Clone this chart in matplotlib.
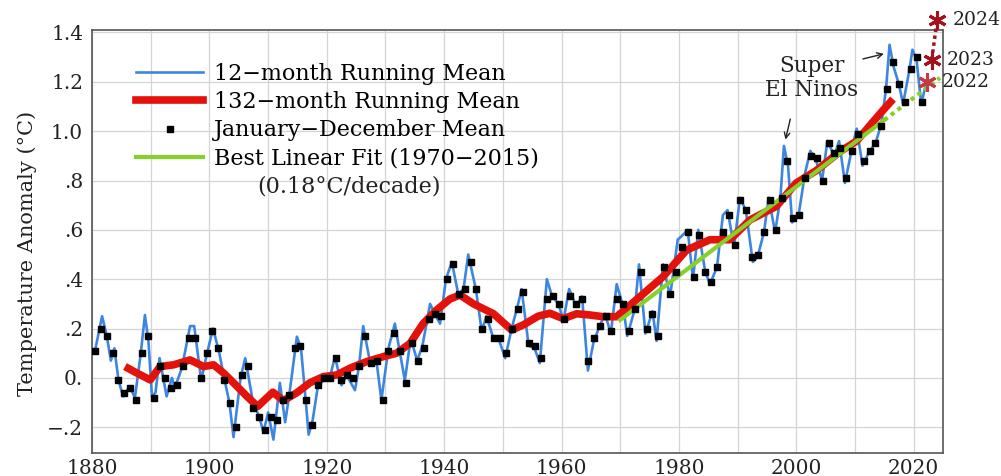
import matplotlib.pyplot as plt
from matplotlib.lines import Line2D
import numpy as np

plt.rcParams['font.family'] = ['DejaVu Serif']

# January-December annual means (deg C, 1880-1920 base), 1880..2021
ann_years = np.arange(1880, 2022)
ann_vals = [0.11, 0.20, 0.17, 0.10, -0.01, -0.06, -0.04, -0.09, 0.10, 0.17,
            -0.08, 0.05, 0.00, -0.04, -0.03, 0.05, 0.16, 0.16, 0.00, 0.10,
            0.19, 0.12, -0.01, -0.10, -0.20, 0.01, 0.05, -0.12, -0.16, -0.21,
            -0.16, -0.17, -0.09, -0.07, 0.12, 0.13, -0.09, -0.19, -0.03, 0.00,
            0.00, 0.08, -0.01, 0.01, 0.00, 0.05, 0.17, 0.06, 0.07, -0.09,
            0.11, 0.18, 0.11, -0.02, 0.14, 0.07, 0.12, 0.24, 0.26, 0.25,
            0.40, 0.46, 0.34, 0.36, 0.47, 0.36, 0.20, 0.24, 0.16, 0.16,
            0.10, 0.20, 0.28, 0.35, 0.14, 0.13, 0.08, 0.32, 0.33, 0.30,
            0.24, 0.33, 0.30, 0.32, 0.07, 0.16, 0.21, 0.25, 0.19, 0.32,
            0.30, 0.19, 0.28, 0.43, 0.20, 0.26, 0.17, 0.45, 0.34, 0.43,
            0.53, 0.59, 0.41, 0.58, 0.43, 0.39, 0.45, 0.59, 0.66, 0.54,
            0.72, 0.68, 0.49, 0.50, 0.59, 0.72, 0.60, 0.73, 0.88, 0.65,
            0.66, 0.81, 0.90, 0.89, 0.80, 0.95, 0.91, 0.93, 0.81, 0.92,
            0.99, 0.88, 0.92, 0.95, 1.02, 1.17, 1.28, 1.19, 1.12, 1.25,
            1.30, 1.12]

# 12-month running mean
blue_years = [1880.0, 1880.5, 1881.7, 1882.5, 1883.2, 1883.8, 1884.5, 1885.3, 1886.4, 1887.3,
              1888.3, 1889.0, 1889.6, 1890.2, 1890.8, 1891.5, 1892.7, 1893.6, 1894.1, 1895.3,
              1896.7, 1897.4, 1898.6, 1899.5, 1900.6, 1901.6, 1902.5, 1903.4, 1904.1, 1905.3,
              1906.1, 1907.5, 1908.4, 1909.2, 1910.0, 1910.9, 1912.0, 1912.9, 1913.6, 1914.9,
              1915.6, 1916.4, 1916.9, 1917.6, 1918.5, 1919.5, 1920.5, 1921.4, 1922.5, 1923.4,
              1924.8, 1925.5, 1926.2, 1927.4, 1928.4, 1929.3, 1930.5, 1931.6, 1932.4, 1933.3,
              1934.3, 1935.4, 1936.3, 1937.6, 1938.4, 1939.3, 1940.3, 1941.3, 1942.4, 1943.3,
              1944.1, 1945.4, 1946.4, 1947.2, 1948.4, 1949.4, 1950.4, 1951.5, 1952.5, 1953.2,
              1954.4, 1955.4, 1956.3, 1957.5, 1958.4, 1959.5, 1960.3, 1961.3, 1962.5, 1963.5,
              1964.5, 1965.5, 1966.5, 1967.4, 1968.4, 1969.4, 1970.5, 1971.2, 1972.5, 1973.2,
              1974.3, 1975.5, 1976.2, 1977.3, 1978.5, 1979.8, 1980.7, 1981.5, 1982.4, 1983.3,
              1984.5, 1985.3, 1986.5, 1987.5, 1988.3, 1989.4, 1990.4, 1991.4, 1992.6, 1993.4,
              1994.5, 1995.3, 1996.4, 1997.3, 1997.9, 1998.6, 1999.3, 2000.4, 2001.5, 2002.4,
              2003.4, 2004.4, 2005.3, 2006.5, 2007.3, 2008.3, 2009.5, 2010.3, 2011.3, 2012.5,
              2013.5, 2014.5, 2015.3, 2015.9, 2016.6, 2017.5, 2018.2, 2019.3, 2019.8, 2020.5,
              2021.3, 2022.0]
blue_vals = [0.12, 0.11, 0.25, 0.17, 0.07, 0.12, -0.01, -0.075, -0.035, -0.08,
             0.10, 0.255, 0.15, -0.075, -0.06, 0.08, -0.075, 0.0, -0.04, 0.04,
             0.21, 0.21, -0.01, 0.09, 0.20, 0.11, 0.0, -0.10, -0.24, 0.0,
             0.08, -0.11, -0.15, -0.22, -0.14, -0.25, -0.02, -0.18, -0.07, 0.167,
             0.12, -0.09, -0.23, -0.17, -0.03, -0.01, 0.0, 0.086, -0.03, 0.01,
             -0.05, 0.05, 0.21, 0.06, 0.08, -0.09, 0.12, 0.22, 0.11, -0.01,
             0.16, 0.07, 0.13, 0.30, 0.26, 0.22, 0.40, 0.47, 0.34, 0.36,
             0.50, 0.36, 0.19, 0.25, 0.16, 0.15, 0.08, 0.20, 0.29, 0.36,
             0.13, 0.12, 0.06, 0.40, 0.33, 0.30, 0.23, 0.36, 0.29, 0.33,
             0.03, 0.15, 0.21, 0.26, 0.18, 0.38, 0.29, 0.17, 0.28, 0.46,
             0.18, 0.27, 0.15, 0.46, 0.33, 0.56, 0.58, 0.60, 0.40, 0.60,
             0.43, 0.38, 0.45, 0.66, 0.68, 0.53, 0.73, 0.68, 0.47, 0.49,
             0.59, 0.73, 0.59, 0.73, 0.94, 0.86, 0.63, 0.66, 0.83, 0.92,
             0.88, 0.80, 0.96, 0.90, 0.96, 0.79, 0.93, 1.01, 0.86, 0.92,
             0.95, 1.03, 1.17, 1.35, 1.26, 1.19, 1.11, 1.25, 1.33, 1.29,
             1.11, 1.18]

# 132-month running mean
red_years = [1885.6, 1887.6, 1889.9, 1891.6, 1893.9, 1896.7, 1899.0, 1900.7, 1902.4, 1904.1,
             1906.4, 1908.2, 1910.8, 1912.6, 1914.9, 1917.1, 1919.4, 1921.7, 1924.0, 1926.8,
             1929.6, 1931.9, 1934.2, 1936.4, 1938.7, 1941.0, 1942.7, 1945.0, 1948.4, 1951.5,
             1953.5, 1956.0, 1958.0, 1960.3, 1962.6, 1964.8, 1967.1, 1969.4, 1973.4, 1977.3,
             1981.3, 1985.3, 1988.7, 1992.1, 1996.6, 2000.0, 2003.4, 2007.4, 2010.3, 2012.8,
             2014.8, 2016.5]
red_vals = [0.046, 0.02, -0.008, 0.046, 0.053, 0.073, 0.046, 0.053, 0.02, -0.02,
            -0.075, -0.116, -0.058, -0.092, -0.06, -0.02, 0.005, 0.012, 0.04, 0.066,
            0.086, 0.10, 0.14, 0.22, 0.275, 0.32, 0.336, 0.30, 0.26, 0.194,
            0.215, 0.25, 0.262, 0.24, 0.26, 0.255, 0.248, 0.248, 0.33, 0.41,
            0.518, 0.56, 0.56, 0.64, 0.695, 0.79, 0.84, 0.916, 0.96, 1.03,
            1.085, 1.13]

# best linear fit 1970-2015 and its extension
fit_years = [1970, 2015]
fit_vals = [0.235, 1.045]
ext_years = [2015, 2024.5]
ext_vals = [1.045, 1.216]

# recent years (stars)
star_labels = ['2022', '2023', '2024']
star_x = [2022.2, 2023.1, 2024.0]
star_vals = [1.20, 1.29, 1.45]

y_ticks = [-0.2, 0.0, 0.2, 0.4, 0.6, 0.8, 1.0, 1.2, 1.4]
y_labels = ['\u2212.2', '0.', '.2', '.4', '.6', '.8', '1.0', '1.2', '1.4']
x_ticks = [1880, 1900, 1920, 1940, 1960, 1980, 2000, 2020]

blue = '#3d86e0'
red = '#e3120b'
green = '#86d02a'
star_red = '#a3121c'

fig = plt.figure(figsize=(10.01, 4.76), dpi=100)
ax = fig.add_axes([0.092, 0.048, 0.850, 0.889])

ax.plot(blue_years, blue_vals, color=blue, lw=1.9, zorder=3)
ax.plot(red_years, red_vals, color=red, lw=5.5, solid_capstyle='butt', zorder=4)
ax.plot(fit_years, fit_vals, color=green, lw=3, zorder=5)
ax.plot(ext_years, ext_vals, color=green, lw=3, ls=(0, (1, 1)), zorder=5)
ax.plot(ann_years + 0.5, ann_vals, 's', color='black', ms=4.8, zorder=6)

# 2023 -> 2024 dotted jump
ax.plot(star_x[1:], star_vals[1:], color=star_red, lw=2.5, ls=(0, (1, 1)),
        clip_on=False, zorder=6)
for i in range(len(star_x)):
    c = '#c43a4a' if i == 0 else star_red
    ax.plot(star_x[i], star_vals[i], marker=(6, 2, 0), ms=13, mew=2.2,
            color=c, clip_on=False, zorder=7)
    ax.annotate(star_labels[i], (star_x[i], star_vals[i]), xytext=(11, 0),
                textcoords='offset points', va='center', ha='left',
                fontsize=13.5, color='#222222', annotation_clip=False)

ax.set_xlim(1880, 2025)
ax.set_ylim(-0.305, 1.41)
ax.set_xticks(x_ticks)
ax.set_xticks(np.arange(1880, 2025, 10), minor=True)
ax.set_yticks(y_ticks)
ax.set_yticklabels(y_labels)
ax.tick_params(which='both', length=0, labelsize=14.5, colors='#222222')
ax.tick_params(axis='y', pad=6.5)
ax.tick_params(axis='x', pad=4.5)
ax.grid(which='both', color='#d4d4d4', lw=0.9)
ax.set_axisbelow(True)
for s in ax.spines.values():
    s.set_color('#555555')
    s.set_linewidth(1.2)

fig.text(0.027, 1 - 253 / 476, 'Temperature Anomaly (\u00b0C)', rotation=90,
         ha='center', va='center', fontsize=15, color='#222222')

handles = [Line2D([], [], color=blue, lw=1.9),
           Line2D([], [], color=red, lw=5.5),
           Line2D([], [], color='black', marker='s', ms=4.8, ls='none'),
           Line2D([], [], color=green, lw=3)]
labels = ['12\u2212month Running Mean', '132\u2212month Running Mean',
          'January\u2212December Mean', 'Best Linear Fit (1970\u22122015)']
ax.legend(handles, labels, loc='upper left', bbox_to_anchor=(0.052, 0.922),
          frameon=False, fontsize=16, handlelength=3.0, handletextpad=0.5,
          labelspacing=0.28, borderpad=0, borderaxespad=0)
ax.text(0.302, 0.629, '(0.18\u00b0C/decade)', transform=ax.transAxes,
        ha='center', va='center', fontsize=16, color='#222222')

ax.text(2002.6, 1.215, 'Super\nEl Ninos', ha='center', va='center',
        fontsize=15.5, color='#222222', linespacing=1.15)
ax.annotate('', xy=(2015.4, 1.316), xytext=(2010.9, 1.29),
            arrowprops=dict(arrowstyle='->', color='#222222', lw=1))
ax.annotate('', xy=(1998.05, 0.955), xytext=(1999.1, 1.06),
            arrowprops=dict(arrowstyle='->', color='#222222', lw=1))

fig.savefig('out.png', dpi=100)
